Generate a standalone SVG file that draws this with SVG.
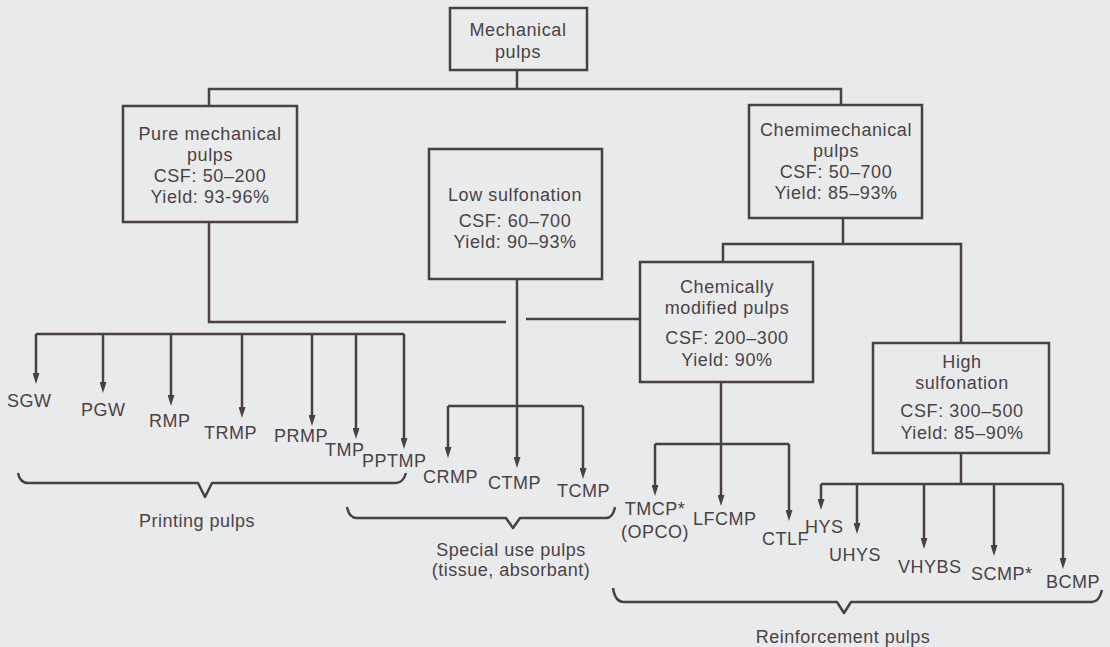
<svg xmlns="http://www.w3.org/2000/svg" width="1110" height="647" viewBox="0 0 1110 647">
  <defs>
    <marker id="arrow" viewBox="0 0 11 7" markerWidth="11" markerHeight="7" refX="5" refY="3.5" orient="auto" markerUnits="userSpaceOnUse">
      <path d="M0,0 L11,3.5 L0,7 Z" fill="#4a4044"/>
    </marker>
    <style>
      .box { fill: none; stroke: #4a4044; stroke-width: 2.5; }
      .ln { fill: none; stroke: #4a4044; stroke-width: 2.5; }
      .arr { fill: none; stroke: #4a4044; stroke-width: 2.5; marker-end: url(#arrow); }
      .brace { fill: none; stroke: #4a4044; stroke-width: 2.5; stroke-linejoin: round; }
      .bt { font-family: "Liberation Sans", Arial, sans-serif; font-size: 18px; letter-spacing: 0.6px; fill: #4a4245; text-anchor: middle; }
      .lb { font-family: "Liberation Sans", Arial, sans-serif; font-size: 18px; letter-spacing: 0.5px; fill: #4a4245; }
      .mid { text-anchor: middle; }
    </style>
  </defs>

  <rect x="0" y="0" width="1110" height="647" fill="#e9eaec"/>

  <!-- connectors -->
  <g id="connectors">
    <!-- root split -->
    <path class="ln" d="M517,70 V89"/>
    <path class="ln" d="M209,106 V89 H841 V105"/>
    <!-- pure mechanical trunk -->
    <path class="ln" d="M209,222 V322 H506"/>
    <path class="ln" d="M526,319 H639"/>
    <!-- printing pulps bar -->
    <path class="ln" d="M36,334 H404"/>
    <path class="arr" d="M36,334 V378"/>
    <path class="arr" d="M103,334 V387"/>
    <path class="arr" d="M171,334 V400"/>
    <path class="arr" d="M242,334 V412"/>
    <path class="arr" d="M312,334 V420"/>
    <path class="arr" d="M356,334 V433"/>
    <path class="arr" d="M404,334 V443"/>
    <!-- low sulfonation -->
    <path class="arr" d="M517,279 V462"/>
    <path class="ln" d="M448,406 H583"/>
    <path class="arr" d="M448,406 V452"/>
    <path class="arr" d="M583,406 V473"/>
    <!-- chemimechanical split -->
    <path class="ln" d="M843,218 V244"/>
    <path class="ln" d="M723,262 V244 H961 V343"/>
    <!-- chemically modified -->
    <path class="arr" d="M721,382 V500"/>
    <path class="ln" d="M655,444 H789"/>
    <path class="arr" d="M655,444 V490"/>
    <path class="arr" d="M789,444 V515"/>
    <!-- high sulfonation -->
    <path class="ln" d="M961,453 V484"/>
    <path class="ln" d="M821,484 H1063"/>
    <path class="arr" d="M821,484 V504"/>
    <path class="arr" d="M857,484 V528"/>
    <path class="arr" d="M924,484 V543"/>
    <path class="arr" d="M994,484 V550"/>
    <path class="arr" d="M1063,484 V563"/>
  </g>

  <!-- nodes -->
  <g id="node-mechanical">
    <rect class="box" x="450" y="8" width="137" height="62"/>
    <text class="bt" x="518" y="36">Mechanical</text>
    <text class="bt" x="518" y="58">pulps</text>
  </g>

  <g id="node-pure-mechanical">
    <rect class="box" x="123" y="106" width="174" height="116"/>
    <text class="bt" x="210" y="140">Pure mechanical</text>
    <text class="bt" x="210" y="161">pulps</text>
    <text class="bt" x="210" y="182">CSF: 50–200</text>
    <text class="bt" x="210" y="203">Yield: 93-96%</text>
  </g>

  <g id="node-low-sulfonation">
    <rect class="box" x="429" y="149" width="173" height="130"/>
    <text class="bt" x="515" y="201">Low sulfonation</text>
    <text class="bt" x="515" y="227">CSF: 60–700</text>
    <text class="bt" x="515" y="248">Yield: 90–93%</text>
  </g>

  <g id="node-chemimechanical">
    <rect class="box" x="749" y="105" width="173" height="113"/>
    <text class="bt" x="836" y="136">Chemimechanical</text>
    <text class="bt" x="836" y="157">pulps</text>
    <text class="bt" x="836" y="178">CSF: 50–700</text>
    <text class="bt" x="836" y="199">Yield: 85–93%</text>
  </g>

  <g id="node-chemically-modified">
    <rect class="box" x="640" y="262" width="173" height="120"/>
    <text class="bt" x="727" y="293">Chemically</text>
    <text class="bt" x="727" y="314">modified pulps</text>
    <text class="bt" x="727" y="344">CSF: 200–300</text>
    <text class="bt" x="727" y="366">Yield: 90%</text>
  </g>

  <g id="node-high-sulfonation">
    <rect class="box" x="873" y="343" width="176" height="110"/>
    <text class="bt" x="962" y="368">High</text>
    <text class="bt" x="962" y="389">sulfonation</text>
    <text class="bt" x="962" y="417">CSF: 300–500</text>
    <text class="bt" x="962" y="439">Yield: 85–90%</text>
  </g>

  <!-- pulp grade labels -->
  <g id="printing-grades">
    <text class="lb" x="7" y="407">SGW</text>
    <text class="lb" x="81" y="416">PGW</text>
    <text class="lb" x="149" y="427">RMP</text>
    <text class="lb" x="204" y="439">TRMP</text>
    <text class="lb" x="274" y="442">PRMP</text>
    <text class="lb" x="325" y="456">TMP</text>
    <text class="lb" x="362" y="467">PPTMP</text>
  </g>
  <g id="special-grades">
    <text class="lb" x="423" y="483">CRMP</text>
    <text class="lb" x="488" y="489">CTMP</text>
    <text class="lb" x="557" y="497">TCMP</text>
  </g>
  <g id="modified-grades">
    <text class="lb mid" x="655" y="515">TMCP*</text>
    <text class="lb mid" x="655" y="538">(OPCO)</text>
    <text class="lb" x="693" y="525">LFCMP</text>
    <text class="lb" x="762" y="545">CTLF</text>
  </g>
  <g id="sulfonated-grades">
    <text class="lb" x="805" y="533">HYS</text>
    <text class="lb" x="829" y="561">UHYS</text>
    <text class="lb" x="898" y="573">VHYBS</text>
    <text class="lb" x="971" y="580">SCMP*</text>
    <text class="lb" x="1046" y="588">BCMP</text>
  </g>

  <!-- end-use braces -->
  <g id="brace-printing">
    <path class="brace" d="M18,473 Q20,483 28,483 H198 L205,497 L212,483 H396 Q403,483 406,473"/>
    <text class="lb mid" x="197" y="527">Printing pulps</text>
  </g>
  <g id="brace-special">
    <path class="brace" d="M347,507 Q349,518 357,518 H506 L513,528 L520,518 H606 Q613,518 615,507"/>
    <text class="lb mid" x="511" y="556">Special use pulps</text>
    <text class="lb mid" x="511" y="576">(tissue, absorbant)</text>
  </g>
  <g id="brace-reinforcement">
    <path class="brace" d="M613,588 Q615,602 624,602 H837 L844,613 L851,602 H1092 Q1099,602 1102,590"/>
    <text class="lb mid" x="843" y="643">Reinforcement pulps</text>
  </g>
</svg>
